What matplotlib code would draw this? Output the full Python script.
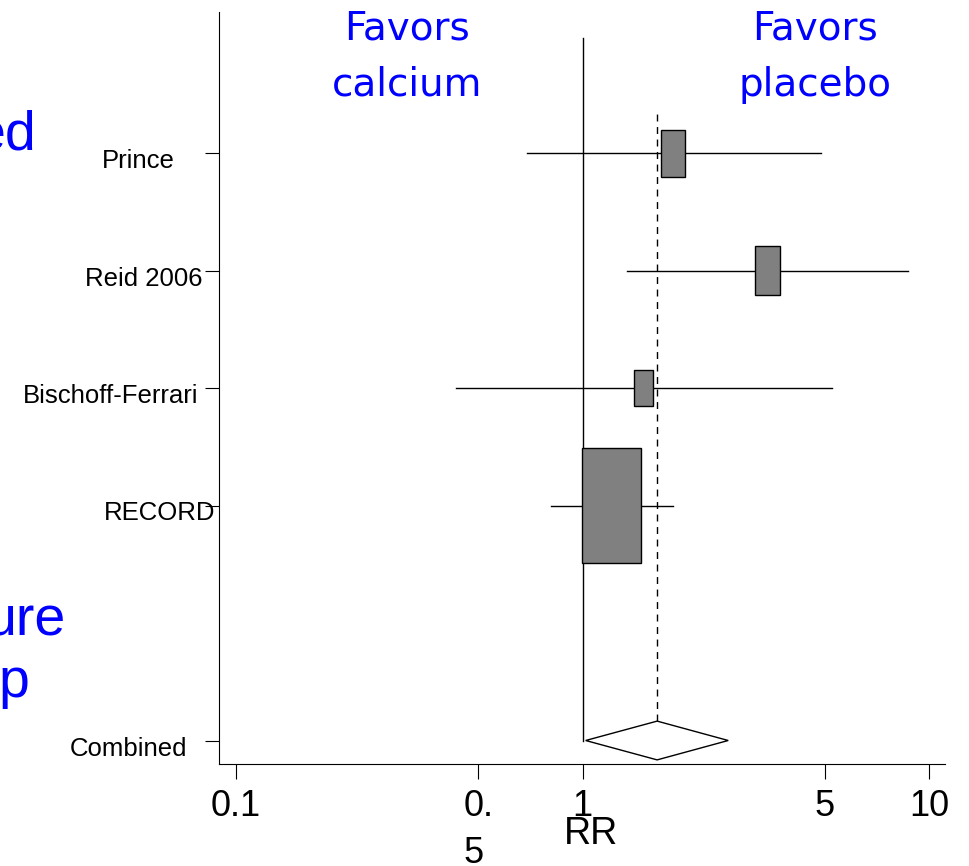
import numpy as np
import matplotlib
matplotlib.use('Agg')
import matplotlib.pyplot as plt
from matplotlib.patches import Rectangle, Polygon
from matplotlib.transforms import offset_copy

# forest plot data
studies = ['Prince', 'Reid 2006', 'Bischoff-Ferrari', 'RECORD']
rr = [1.82, 3.41, 1.50, 1.21]
ci_low = [0.69, 1.34, 0.43, 0.81]
ci_high = [4.88, 8.70, 5.25, 1.82]
weights = [0.40, 0.42, 0.31, 0.98]      # box height, data units

combined_label = 'Combined'
combined_rr = 1.64
combined_low = 1.02
combined_high = 2.63

xticks = [0.1, 0.5, 1, 5, 10]
xtick_labels = ['0.1', '0.\n5', '1', '5', '10']

ypos = [5, 4, 3, 2]
ycomb = 0

W, H = 970, 866
fig = plt.figure(figsize=(W / 100, H / 100), dpi=100)
ax = fig.add_axes([219 / W, 1 - 764 / H, (945 - 219) / W, (764 - 12) / H])
ax.set_xscale('log')
ax.set_xlim(0.0893, 11.1)
ax.set_ylim(-0.2, 6.2)

# reference lines
ax.plot([1, 1], [0, 5.98], color='black', lw=1)
ax.plot([combined_rr, combined_rr], [0.17, 5.35], color='black', lw=1,
        ls=(0, (5, 4)))

# studies: CI line + weighted box
for y, m, lo, hi, w in zip(ypos, rr, ci_low, ci_high, weights):
    ax.plot([lo, hi], [y, y], color='black', lw=1, zorder=2)
    hw = w * 0.175 / 2
    x0 = m * 10 ** (-hw)
    x1 = m * 10 ** hw
    ax.add_patch(Rectangle((x0, y - w / 2), x1 - x0, w, facecolor='#808080',
                           edgecolor='black', lw=1, zorder=3))

# combined diamond
dh = 0.165
ax.add_patch(Polygon([[combined_low, ycomb], [combined_rr, ycomb + dh],
                      [combined_high, ycomb], [combined_rr, ycomb - dh]],
                     closed=True, facecolor='white', edgecolor='black',
                     lw=1, zorder=3))

for s in ['top', 'right']:
    ax.spines[s].set_visible(False)

ax.set_xticks(xticks)
ax.set_xticklabels(xtick_labels)
ax.minorticks_off()
ax.tick_params(axis='x', direction='out', length=11, width=0.8, pad=7,
               labelsize=26)
for lab in ax.get_xticklabels():
    lab.set_family('Liberation Sans')
    lab.set_multialignment('left')
    lab.set_linespacing(1.45)

ax.set_yticks(ypos + [ycomb])
ax.set_yticklabels([])
ax.tick_params(axis='y', direction='out', length=10, width=0.8)

# y labels, placed like the original slide
labels = studies + [combined_label]
right_dx = [-44, -16, -21, -4, -32]
for lab, y, dx in zip(labels, ypos + [ycomb], right_dx):
    tr = offset_copy(ax.get_yaxis_transform(), fig=fig, x=dx, y=-8, units='dots')
    ax.text(0, y, lab, transform=tr, ha='right', va='center', fontsize=18.5,
            family='Liberation Sans')

ax.set_xlabel('RR', fontsize=27, family='Liberation Sans')
ax.xaxis.set_label_coords((591 - 219) / 726, -0.069)

blue = '#0000FF'
fig.text(407 / W, 1 - 10 / H, 'Favors\ncalcium', color=blue, fontsize=28,
         ha='center', va='top', multialignment='center', family='DejaVu Sans',
         linespacing=1.6)
fig.text(815 / W, 1 - 10 / H, 'Favors\nplacebo', color=blue, fontsize=28,
         ha='center', va='top', multialignment='center', family='DejaVu Sans',
         linespacing=1.6)

# cut-off slide text on the left edge
fig.text(36 / W, 1 - 150 / H, 'ed', color=blue, fontsize=40, ha='right',
         va='baseline', family='Liberation Sans')
fig.text(66 / W, 1 - 635 / H, 'ure', color=blue, fontsize=40, ha='right',
         va='baseline', family='Liberation Sans')
fig.text(29 / W, 1 - 697 / H, 'p', color=blue, fontsize=40, ha='right',
         va='baseline', family='Liberation Sans')

fig.savefig('out.png', dpi=100)
